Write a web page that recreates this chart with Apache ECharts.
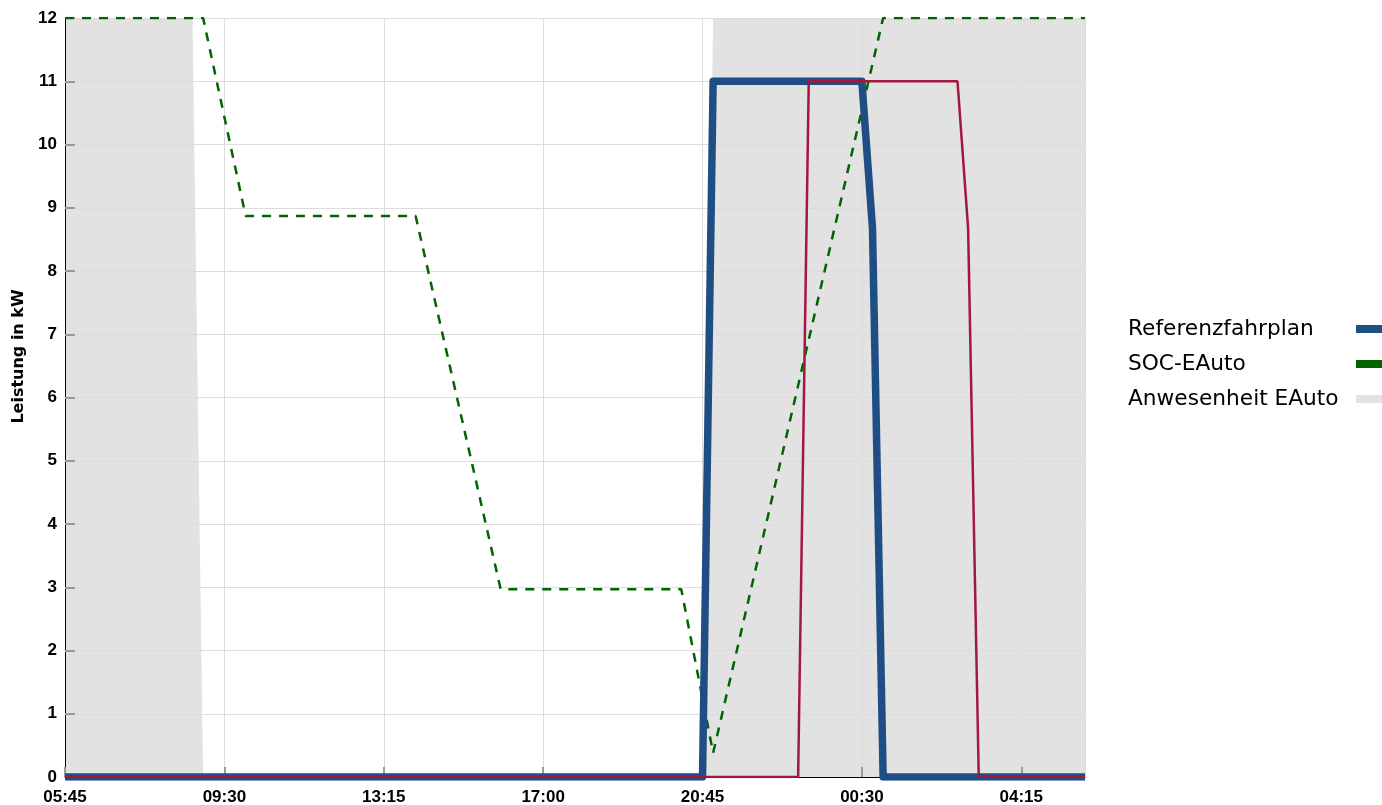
<!DOCTYPE html>
<html>
<head>
<meta charset="utf-8">
<script src="https://cdn.jsdelivr.net/npm/echarts@6/dist/echarts.min.js"></script>
<style>
html,body{margin:0;padding:0;background:#fff;}
#chart{width:1382px;height:805px;}
</style>
</head>
<body>
<div id="chart"></div>
<script>
// ---- data (times: HH:MM, "+1" = next day) ----
const xTickLabels = ['05:45','09:30','13:15','17:00','20:45','00:30','04:15'];
const yTicks = [0,1,2,3,4,5,6,7,8,9,10,11,12];

const presenceTimes  = ['05:45','08:45','09:00','20:45','21:00','05:45+1'];
const presenceValues = [12, 12, 0, 0, 12, 12];

const socTimes  = ['05:45','09:00','10:00','14:00','16:00','20:15','21:00','01:00+1','05:45+1'];
const socValues = [12, 12, 8.87, 8.87, 2.97, 2.97, 0.38, 12, 12];

const refTimes  = ['05:45','20:45','21:00','00:30+1','00:45+1','01:00+1','05:45+1'];
const refValues = [0, 0, 11, 11, 8.67, 0, 0];

const optTimes  = ['05:45','23:00','23:15','02:45+1','03:00+1','03:15+1','05:45+1'];
const optValues = [0, 0, 11, 11, 8.67, 0, 0];

// ---- helpers ----
const START = 5*60+45;
function toX(t){
  let next = t.endsWith('+1');
  let s = next ? t.slice(0,-2) : t;
  let [h,m] = s.split(':').map(Number);
  return h*60+m - START + (next ? 1440 : 0);
}
function pairs(times, vals){ return times.map((t,i)=>[toX(t), vals[i]]); }
function fmt(v){
  let m = (START + v) % 1440;
  let h = Math.floor(m/60), mm = m%60;
  return String(h).padStart(2,'0')+':'+String(mm).padStart(2,'0');
}

const chart = echarts.init(document.getElementById('chart'));
const axisFont = {color:'#000', fontWeight:'bold', fontSize:17, fontFamily:'"Liberation Sans", Arial, sans-serif'};

chart.setOption({
  animation:false,
  backgroundColor:'#fff',
  grid:{left:65, right:297, top:18, bottom:28, containLabel:false, outerBoundsMode:'none'},
  legend:{
    orient:'vertical', right:0, top:318, padding:0,
    align:'right', icon:'rect', itemWidth:26, itemHeight:8, itemGap:13,
    data:['Referenzfahrplan','SOC-EAuto','Anwesenheit EAuto'],
    formatter: n => '{a|'+n+'}',
    textStyle:{
      rich:{a:{width:223, align:'left', fontSize:21.7, lineHeight:24, color:'#000', fontFamily:'"DejaVu Sans", Verdana, sans-serif'}}
    }
  },
  xAxis:{
    type:'value', min:0, max:1440, interval:225, z:1,
    axisLine:{show:true, onZero:false, lineStyle:{color:'#000', width:1}},
    axisTick:{show:true, inside:true, length:10, lineStyle:{color:'#999', width:2}},
    axisLabel:Object.assign({formatter:v=>fmt(v), margin:12, showMaxLabel:false}, axisFont),
    splitLine:{show:true, lineStyle:{color:'#dcdcdc', width:1}}
  },
  yAxis:{
    type:'value', min:yTicks[0], max:yTicks[yTicks.length-1], interval:1, z:1,
    name:'Leistung in kW', nameLocation:'middle', nameGap:35, nameRotate:90,
    nameTextStyle:{color:'#000', fontWeight:'bold', fontSize:16, fontFamily:'"DejaVu Sans", Verdana, sans-serif', padding:[0,0,0,82]},
    axisLine:{show:true, lineStyle:{color:'#000', width:1}},
    axisTick:{show:true, inside:true, length:10, lineStyle:{color:'#999', width:2}},
    axisLabel:Object.assign({margin:8}, axisFont),
    splitLine:{show:true, lineStyle:{color:'#dcdcdc', width:1}}
  },
  series:[
    {
      name:'Anwesenheit EAuto', type:'line', data:pairs(presenceTimes, presenceValues),
      symbol:'none', itemStyle:{color:'#e2e2e2'},
      lineStyle:{width:0, color:'#e2e2e2'},
      areaStyle:{color:'#e2e2e2', opacity:1}, z:0
    },
    {
      name:'SOC-EAuto', type:'line', data:pairs(socTimes, socValues),
      symbol:'none', itemStyle:{color:'#006400'},
      lineStyle:{width:2.5, color:'#006400', type:[9,8]}, z:2
    },
    {
      name:'Referenzfahrplan', type:'line', data:pairs(refTimes, refValues),
      symbol:'none', itemStyle:{color:'#1f4e85'},
      lineStyle:{width:7.5, color:'#1f4e85', join:'round'}, z:3
    },
    {
      name:'Optimierter Fahrplan', type:'line', data:pairs(optTimes, optValues),
      symbol:'none', itemStyle:{color:'#a3173d'},
      lineStyle:{width:2.5, color:'#a3173d'}, z:4
    }
  ]
});
</script>
</body>
</html>
